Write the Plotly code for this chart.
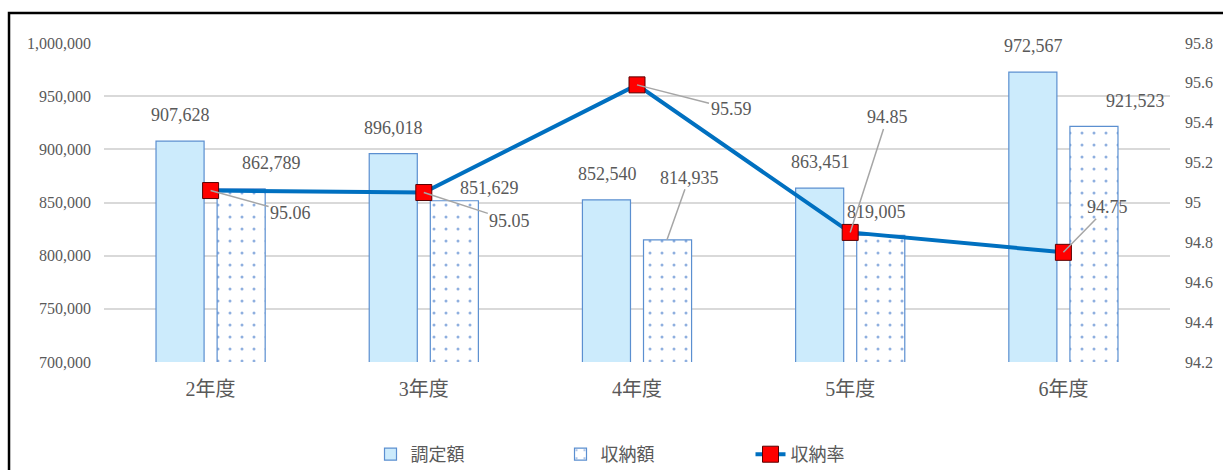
import plotly.graph_objects as go

categories = ["2年度", "3年度", "4年度", "5年度", "6年度"]
assessed = [907628, 896018, 852540, 863451, 972567]
collected = [862789, 851629, 814935, 819005, 921523]
rate = [95.06, 95.05, 95.59, 94.85, 94.75]

# label placement offsets (pixels) — styling only
collected_label_off = [(31, 26, False), (36, 13, False), (22, 62, True), (-4, 23, False), (42, 25, False)]
rate_label_off = [(80, 22), (86, 28), (94, 24), (37, -115), (44, -45)]

FONT = "'Liberation Serif', 'Noto Sans CJK JP', serif"
GRAY = "#595959"

fig = go.Figure()
fig.add_trace(go.Bar(
    x=categories, y=assessed, name="調定額",
    marker=dict(color="#CCEBFC", line=dict(color="#5B8FD0", width=1.2)),
    offsetgroup="a",
))
fig.add_trace(go.Bar(
    x=categories, y=collected, name="収納額",
    marker=dict(color="white", line=dict(color="#5B8FD0", width=1.2),
                pattern=dict(shape=".", fgcolor="#1F5FC0", bgcolor="white", size=12, solidity=0.05)),
    offsetgroup="b",
))
fig.add_trace(go.Scatter(
    x=categories, y=rate, name="収納率", yaxis="y2", mode="lines+markers",
    line=dict(color="#0070C0", width=4),
    marker=dict(symbol="square", size=16, color="#FF0000", line=dict(color="#5a0000", width=1)),
))

ann = []
for c, v in zip(categories, assessed):
    ann.append(dict(x=c, y=v, xref="x", yref="y", text=f"{v:,}", showarrow=False,
                    xshift=-30, yshift=26, font=dict(family=FONT, size=18, color=GRAY)))
for c, v, (dx, dy, arrow) in zip(categories, collected, collected_label_off):
    if arrow:
        ann.append(dict(x=c, y=v, xref="x", yref="y", text=f"{v:,}", showarrow=True,
                        arrowhead=0, arrowwidth=1.5, arrowcolor="#A6A6A6",
                        ax=dx, ay=-dy, xshift=30, standoff=0,
                        font=dict(family=FONT, size=18, color=GRAY)))
    else:
        ann.append(dict(x=c, y=v, xref="x", yref="y", text=f"{v:,}", showarrow=False,
                        xshift=30 + dx, yshift=dy, font=dict(family=FONT, size=18, color=GRAY)))
for c, v, (dx, dy) in zip(categories, rate, rate_label_off):
    ann.append(dict(x=c, y=v, xref="x", yref="y2", text=f"{v:.2f}", showarrow=True,
                    arrowhead=0, arrowwidth=1.5, arrowcolor="#A6A6A6",
                    ax=dx, ay=dy, standoff=0,
                    font=dict(family=FONT, size=18, color=GRAY)))

fig.update_layout(
    width=1223, height=470,
    margin=dict(l=104, r=53, t=43, b=108, autoexpand=False),
    paper_bgcolor="white", plot_bgcolor="white",
    font=dict(family=FONT, color=GRAY),
    barmode="group", bargap=0.427, bargroupgap=0.213,
    showlegend=True,
    legend=dict(orientation="h", x=0.25, xanchor="left", y=-0.29, yanchor="middle",
                font=dict(family=FONT, size=18, color=GRAY), entrywidth=145, traceorder="normal"),
    xaxis=dict(showgrid=False, showline=False, ticks="", tickfont=dict(family=FONT, size=20, color=GRAY),
               ticklabelstandoff=13, automargin=False),
    yaxis=dict(range=[700000, 1000000], dtick=50000, tickformat=",d", showgrid=True,
               gridcolor="#D9D9D9", gridwidth=1.5, zeroline=False, showline=False,
               tickfont=dict(family=FONT, size=16, color=GRAY), ticklabelstandoff=12, automargin=False),
    yaxis2=dict(range=[94.2, 95.8], dtick=0.2, overlaying="y", side="right", showgrid=False,
                zeroline=False, showline=False, tickfont=dict(family=FONT, size=16, color=GRAY),
                ticklabelstandoff=14, automargin=False),
    annotations=ann,
    shapes=[dict(type="rect", xref="paper", yref="paper", x0=-0.0891, x1=1.2, y0=-0.6, y1=1.094,
                 line=dict(color="black", width=2.5), fillcolor="rgba(0,0,0,0)", layer="above")],
)

fig.write_html("out.html")
